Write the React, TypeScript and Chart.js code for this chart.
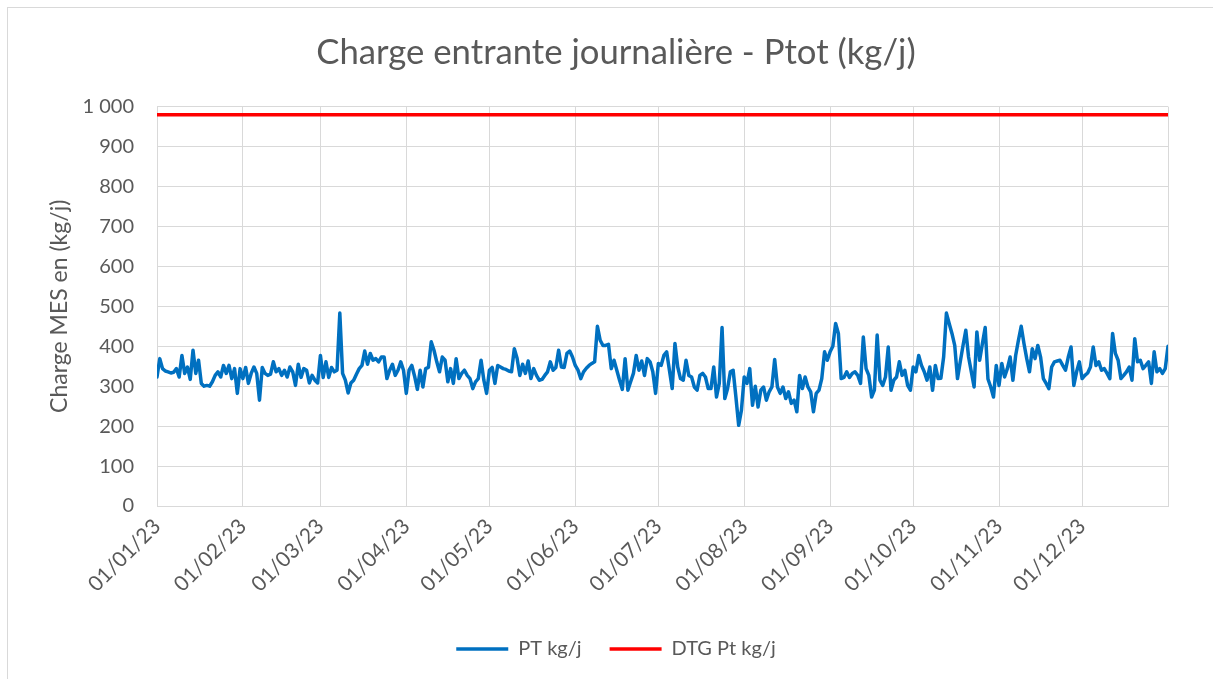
import React, { useEffect, useRef } from "react";
import { Chart, registerables } from "chart.js";

Chart.register(...registerables);

const chartTitle = "Charge entrante journalière - Ptot (kg/j)";
const yAxisTitle = "Charge MES en (kg/j)";
const seriesNames = ["PT kg/j", "DTG Pt kg/j"];
const tickLabels = [
  "01/01/23", "01/02/23", "01/03/23", "01/04/23", "01/05/23", "01/06/23",
  "01/07/23", "01/08/23", "01/09/23", "01/10/23", "01/11/23", "01/12/23",
];

// Daily PT loads (kg/j), one array per month
const jan = [323, 369, 344, 338, 336, 333, 335, 344, 323, 377, 332, 348, 317, 390, 332, 365, 307, 300, 302, 300, 311, 327, 336, 323, 352, 332, 352, 319, 344, 282, 344];
const feb = [319, 347, 307, 332, 348, 332, 265, 347, 332, 327, 330, 361, 336, 344, 327, 340, 323, 348, 336, 302, 355, 322, 344, 340, 308, 327, 315, 308];
const mar = [377, 322, 361, 322, 347, 336, 340, 483, 332, 315, 283, 308, 315, 330, 344, 352, 388, 355, 382, 365, 369, 361, 373, 373, 319, 340, 355, 327, 340, 361, 340];
const apr = [282, 340, 352, 325, 292, 340, 298, 344, 347, 411, 390, 361, 336, 373, 365, 311, 344, 307, 369, 319, 332, 340, 327, 319, 294, 311, 319, 365, 315, 282];
const may = [340, 347, 307, 352, 348, 344, 342, 338, 336, 394, 370, 327, 355, 332, 363, 319, 344, 327, 315, 317, 327, 336, 361, 340, 347, 390, 348, 347, 382, 388, 373];
const jun = [352, 340, 319, 336, 345, 352, 357, 361, 450, 415, 402, 402, 405, 344, 365, 340, 315, 292, 369, 290, 311, 332, 377, 340, 363, 327, 369, 361, 336, 282];
const jul = [357, 352, 377, 386, 340, 294, 407, 348, 319, 315, 365, 327, 323, 298, 290, 327, 332, 323, 294, 294, 348, 273, 307, 447, 269, 294, 336, 340, 273, 202, 240];
const aug = [323, 307, 344, 252, 300, 248, 290, 298, 265, 286, 298, 367, 298, 282, 298, 269, 286, 257, 265, 236, 327, 294, 323, 298, 286, 236, 282, 290, 319, 386, 365];
const sep = [386, 400, 457, 432, 319, 322, 336, 322, 332, 336, 327, 307, 423, 344, 327, 273, 290, 428, 315, 302, 323, 398, 290, 315, 323, 361, 327, 340, 302, 290];
const oct = [348, 336, 377, 352, 336, 315, 348, 290, 352, 319, 320, 373, 483, 457, 432, 402, 319, 361, 402, 440, 373, 336, 298, 436, 365, 407, 447, 318, 298, 273, 352];
const nov = [302, 357, 323, 344, 373, 315, 377, 415, 450, 407, 369, 336, 394, 369, 402, 373, 319, 307, 294, 348, 361, 363, 365, 352, 340, 373, 398, 302, 336, 361];
const dec = [319, 327, 333, 348, 398, 352, 361, 340, 344, 332, 319, 432, 382, 365, 319, 327, 336, 348, 315, 419, 361, 365, 344, 352, 361, 307, 386, 336, 344, 332, 344];
const jan24 = [400];

const dtgLimit = 980;
const yMin = 0;
const yMax = 1000;
const yStep = 100;

const months = [jan, feb, mar, apr, may, jun, jul, aug, sep, oct, nov, dec];
const ptValues: number[] = ([] as number[]).concat(...months, jan24);
const monthStarts: number[] = [];
{
  let acc = 0;
  for (const m of months) {
    monthStarts.push(acc);
    acc += m.length;
  }
}
const lastDay = ptValues.length - 1;

const FONT = "Lato, 'Open Sans', sans-serif";
const TEXT = "#595959";
const GRID = "#d9d9d9";
const PAD_LEFT = 19;

export default function App() {
  const ref = useRef<HTMLCanvasElement>(null);

  useEffect(() => {
    const canvas = ref.current;
    if (!canvas) return;
    const chart = new Chart(canvas, {
      type: "line",
      data: {
        datasets: [
          {
            label: seriesNames[0],
            data: ptValues.map((v, i) => ({ x: i, y: v })),
            borderColor: "#0070C0",
            backgroundColor: "#0070C0",
            borderWidth: 3.5,
            pointRadius: 0,
            tension: 0,
            borderCapStyle: "round",
            borderJoinStyle: "round",
            yAxisID: "y",
          },
          {
            label: seriesNames[1],
            data: ptValues.map((_, i) => ({ x: i, y: dtgLimit })),
            borderColor: "#FF0000",
            backgroundColor: "#FF0000",
            borderWidth: 3.5,
            pointRadius: 0,
            borderCapStyle: "round",
            yAxisID: "y",
          },
        ],
      },
      options: {
        responsive: false,
        animation: false,
        devicePixelRatio: 1,
        layout: { padding: { left: PAD_LEFT, right: 0, top: 0, bottom: 10 } },
        plugins: {
          title: {
            display: true,
            text: chartTitle,
            color: TEXT,
            font: { family: FONT, size: 34.7, weight: "normal" },
            padding: { top: 32, bottom: 33 },
          },
          legend: {
            position: "bottom",
            labels: {
              usePointStyle: true,
              pointStyle: "line",
              pointStyleWidth: 52,
              color: TEXT,
              font: { family: FONT, size: 20 },
              padding: 28,
            },
          },
          tooltip: { enabled: false },
        },
        scales: {
          x: {
            type: "linear",
            min: 0,
            max: lastDay,
            afterBuildTicks: (scale: any) => {
              scale.ticks = monthStarts.map((v) => ({ value: v })).concat([{ value: lastDay }]);
            },
            afterFit: (scale: any) => {
              scale.height = 105;
            },
            grid: { color: GRID, drawTicks: false, lineWidth: 1 },
            border: { color: GRID, width: 1 },
            ticks: {
              autoSkip: false,
              minRotation: 45,
              maxRotation: 45,
              padding: 8,
              color: TEXT,
              font: { family: FONT, size: 21 },
              callback: (value: any) => {
                const idx = monthStarts.indexOf(Number(value));
                return idx >= 0 ? tickLabels[idx] : "";
              },
            },
          },
          y: {
            min: yMin,
            max: yMax,
            afterFit: (scale: any) => {
              scale.width = 157 - PAD_LEFT;
            },
            grid: { color: GRID, drawTicks: false, lineWidth: 1 },
            border: { color: GRID, width: 1 },
            ticks: {
              stepSize: yStep,
              padding: 23,
              color: TEXT,
              font: { family: FONT, size: 20 },
              callback: (value: any) => {
                const n = Number(value);
                return n >= 1000 ? `${Math.floor(n / 1000)} ${String(n % 1000).padStart(3, "0")}` : String(n);
              },
            },
            title: {
              display: true,
              text: yAxisTitle,
              color: TEXT,
              font: { family: FONT, size: 23 },
              padding: { top: 27, bottom: 0 },
            },
          },
          yRight: {
            position: "right",
            display: true,
            min: yMin,
            max: yMax,
            grid: { display: false, drawTicks: false },
            border: { display: false },
            ticks: { display: false },
            afterFit: (scale: any) => {
              scale.width = 45;
            },
          },
        },
      },
    } as any);
    return () => chart.destroy();
  }, []);

  return (
    <div
      style={{
        position: "fixed",
        left: 0,
        top: 0,
        width: 1213,
        height: 679,
        overflow: "hidden",
        background: "#ffffff",
      }}
    >
      <div
        style={{
          position: "absolute",
          left: 7,
          top: 7,
          width: 1230,
          height: 700,
          border: "1px solid #d9d9d9",
          boxSizing: "border-box",
        }}
      />
      <canvas
        ref={ref}
        width={1213}
        height={679}
        style={{ position: "absolute", left: 0, top: 0, width: 1213, height: 679 }}
      />
    </div>
  );
}
